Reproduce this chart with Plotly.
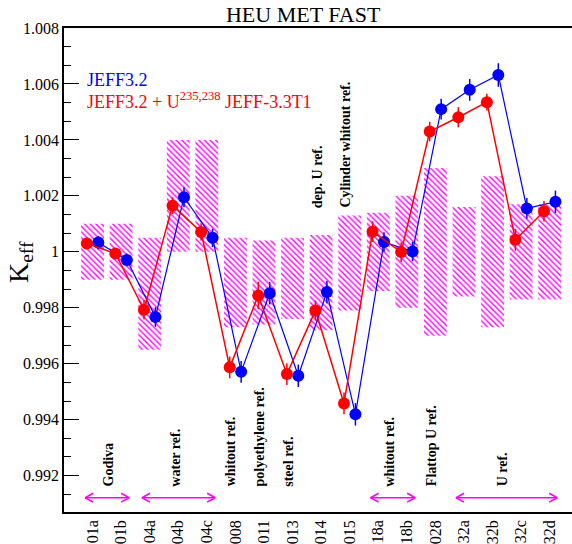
import plotly.graph_objects as go

cases = ["01a", "01b", "04a", "04b", "04c", "008", "011", "013", "014", "015",
         "18a", "18b", "028", "32a", "32b", "32c", "32d"]

# benchmark uncertainty bands (low / high keff)
band_lo = [0.999, 0.999, 0.9965, 1.000, 1.000, 0.9973, 0.9974, 0.9976, 0.9972,
           0.9979, 0.9986, 0.998, 0.997, 0.9984, 0.9973, 0.9983, 0.9983]
band_hi = [1.001, 1.001, 1.0005, 1.004, 1.004, 1.0005, 1.0004, 1.0005, 1.0006,
           1.0013, 1.0014, 1.002, 1.003, 1.0016, 1.0027, 1.0017, 1.0017]

jeff32 = [1.00033, 0.99971, 0.99767, 1.00195, 1.0005, 0.99571, 0.99852, 0.99557, 0.99856,
          0.99419, 1.00035, 1.00001, 1.0051, 1.00579, 1.00632, 1.00155, 1.00179]
jeff32_err = [0.00024, 0.00023, 0.00035, 0.00036, 0.00033, 0.00039, 0.0004, 0.0004, 0.0004,
              0.0004, 0.00035, 0.00035, 0.00037, 0.00039, 0.00042, 0.00037, 0.0004]

jeff32_u = [1.0003, 0.99994, 0.99793, 1.00165, 1.00071, 0.99587, 0.99844, 0.99563, 0.9979,
            0.99458, 1.00072, 0.99999, 1.0043, 1.00481, 1.00535, 1.00043, 1.00145]
jeff32_u_err = [0.0002, 0.0002, 0.00035, 0.0003, 0.00031, 0.00039, 0.00049, 0.00039, 0.00036,
                0.00039, 0.00037, 0.00035, 0.00035, 0.00036, 0.0003, 0.00039, 0.00037]

yticks = [0.992, 0.994, 0.996, 0.998, 1.0, 1.002, 1.004, 1.006, 1.008]
yticktext = ["0.992", "0.994", "0.996", "0.998", "1", "1.002", "1.004", "1.006", "1.008"]

# group labels: (text, x position, y bottom)
groups = [("Godiva", 0.54, 0.99154), ("water ref.", 2.89, 0.99154),
          ("whitout ref.", 4.84, 0.99154), ("polyethylene ref.", 5.84, 0.99154),
          ("steel ref.", 6.85, 0.99154), ("dep. U ref.", 7.85, 1.0015),
          ("Cylinder whitout ref.", 8.86, 1.0015), ("whitout ref.", 10.38, 0.99154),
          ("Flattop U ref.", 11.85, 0.99154), ("U ref.", 14.36, 0.99154)]
arrow_spans = [(-0.26, 1.28), (1.73, 4.29), (9.73, 11.29), (12.72, 16.26)]
arrow_y = 0.99121

FONT = "Liberation Serif"
idx = list(range(len(cases)))

fig = go.Figure()

fig.add_trace(go.Bar(
    x=idx, base=band_lo, y=[h - l for h, l in zip(band_hi, band_lo)],
    width=0.8,
    marker=dict(color="rgba(0,0,0,0)", line_width=0,
                pattern=dict(shape="\\", fgcolor="#ff00ff", bgcolor="rgba(0,0,0,0)",
                             size=4, solidity=0.35, fillmode="replace")),
    showlegend=False, hoverinfo="skip",
))

fig.add_trace(go.Scatter(
    x=[i + 0.2 for i in idx], y=jeff32, mode="lines+markers",
    line=dict(color="#0000ff", width=1.2),
    marker=dict(color="#0000ff", size=12),
    error_y=dict(type="data", array=jeff32_err, color="#0000ff", thickness=1.5, width=0),
    showlegend=False,
))
fig.add_trace(go.Scatter(
    x=[i - 0.2 for i in idx], y=jeff32_u, mode="lines+markers",
    line=dict(color="#ff0000", width=1.5),
    marker=dict(color="#ff0000", size=12),
    error_y=dict(type="data", array=jeff32_u_err, color="#ff0000", thickness=1.5, width=0),
    showlegend=False,
))

# double headed arrows
hx, hy = 0.28, 0.00016
ax, ay = [], []
for x0, x1 in arrow_spans:
    ax += [x0, x1, None, x0 + hx, x0, x0 + hx, None, x1 - hx, x1, x1 - hx, None]
    ay += [arrow_y, arrow_y, None, arrow_y + hy, arrow_y, arrow_y - hy, None,
           arrow_y + hy, arrow_y, arrow_y - hy, None]
fig.add_trace(go.Scatter(x=ax, y=ay, mode="lines", line=dict(color="#ff00ff", width=1.5),
                         showlegend=False, hoverinfo="skip"))

for text, gx, gy in groups:
    fig.add_annotation(x=gx, y=gy, text="<b>" + text + "</b>", textangle=-90,
                       showarrow=False, xanchor="center", yanchor="bottom",
                       font=dict(family=FONT, size=14, color="black"))

fig.add_annotation(xref="paper", yref="paper", x=0.041, y=0.893, text="JEFF3.2",
                   showarrow=False, xanchor="left", yanchor="middle",
                   font=dict(family=FONT, size=18, color="#0000ff"))
fig.add_annotation(xref="paper", yref="paper", x=0.041, y=0.851,
                   text="JEFF3.2 + U<sup>235,238</sup> JEFF-3.3T1",
                   showarrow=False, xanchor="left", yanchor="middle",
                   font=dict(family=FONT, size=18, color="#ff0000"))
fig.add_annotation(xref="paper", yref="paper", x=-0.087, y=0.516,
                   text="K<sub>eff</sub>", textangle=-90, showarrow=False,
                   xanchor="center", yanchor="middle",
                   font=dict(family=FONT, size=28, color="black"))

fig.update_layout(
    width=572, height=544,
    margin=dict(l=64, r=0, t=28, b=32),
    plot_bgcolor="white", paper_bgcolor="white",
    title=dict(text="HEU MET FAST", x=0.53, xanchor="center", y=0.973, yanchor="middle",
               font=dict(family=FONT, size=22, color="black")),
    barmode="overlay",
    xaxis=dict(range=[-1, 16.78], tickvals=idx, ticktext=cases, tickangle=-90,
               showgrid=False, zeroline=False, showline=True, linecolor="black",
               linewidth=1.5, mirror=True, ticks="", automargin=False,
               tickfont=dict(family=FONT, size=16, color="black")),
    yaxis=dict(range=[0.9907, 1.008], tickvals=yticks, ticktext=yticktext,
               showgrid=False, zeroline=False, showline=True, linecolor="black",
               linewidth=1.5, ticks="inside", ticklen=15, tickwidth=1.2,
               tickcolor="black", automargin=False,
               minor=dict(tick0=0.992, dtick=0.002 / 3, ticks="inside", ticklen=7,
                          tickwidth=1.2, tickcolor="black", showgrid=False),
               tickfont=dict(family=FONT, size=16, color="black")),
)

fig.write_html("out.html", config={"displayModeBar": False},
               post_script="document.body.style.margin='0';document.body.style.overflow='hidden';")
